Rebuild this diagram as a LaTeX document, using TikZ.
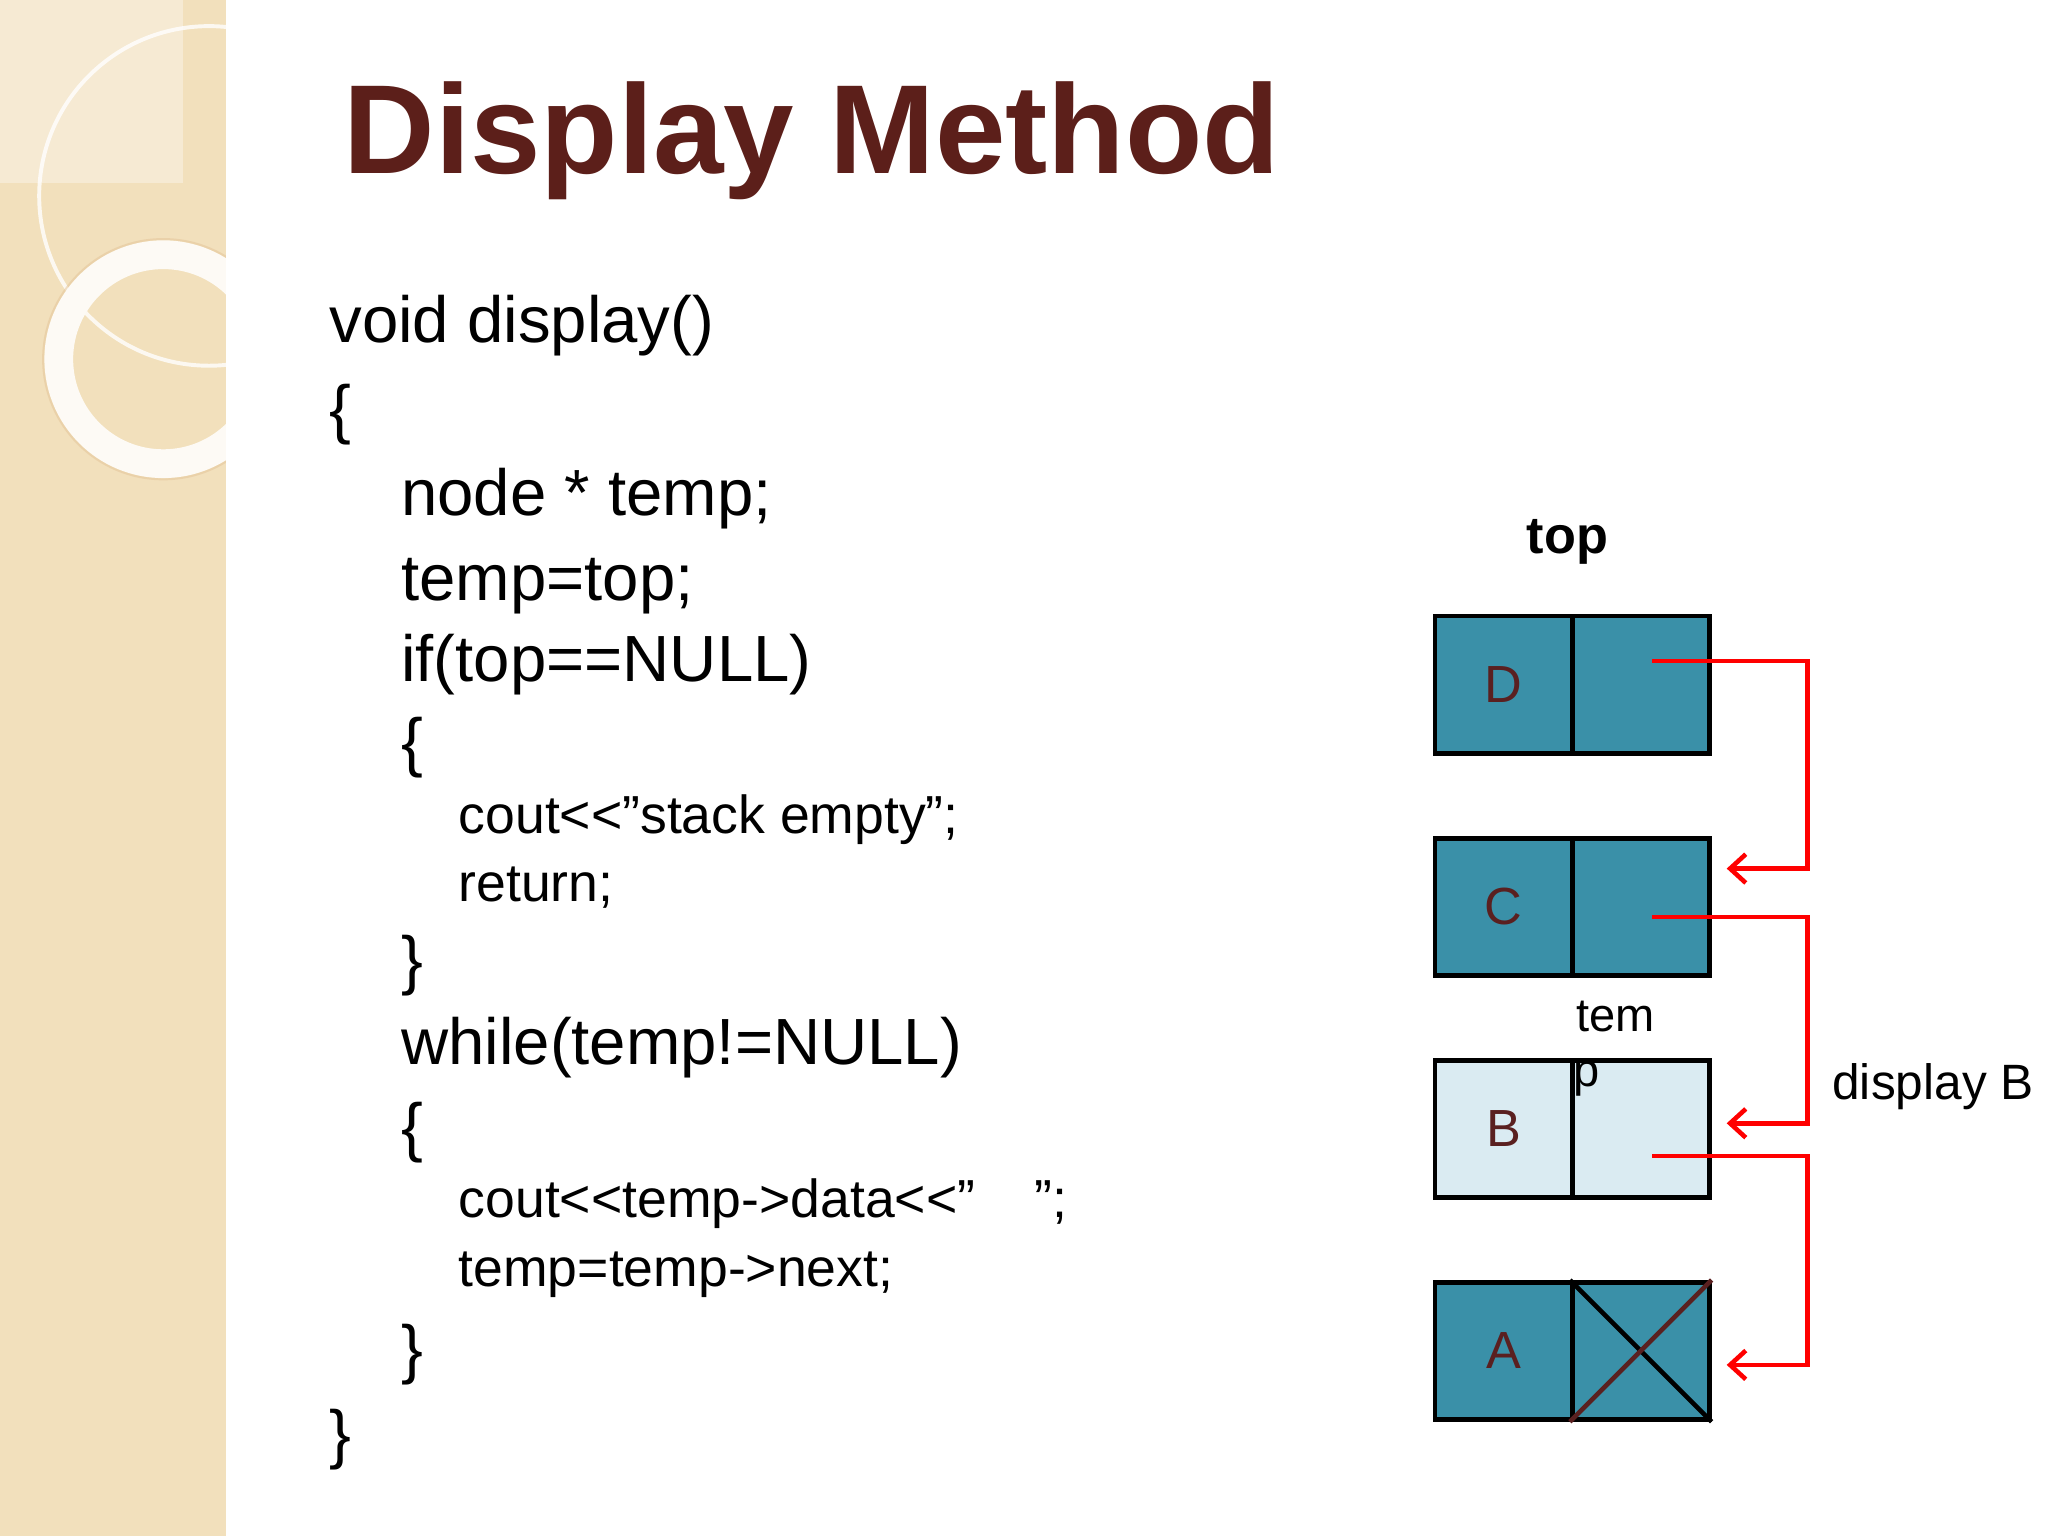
\documentclass[tikz,border=0pt]{standalone}
\usepackage{fontspec}
\setmainfont{Liberation Sans}
\usetikzlibrary{arrows.meta}
\definecolor{teal1}{HTML}{3A90A8}
\definecolor{light1}{HTML}{DAEBF2}
\definecolor{title}{HTML}{5C1F1A}
\definecolor{band}{HTML}{F2E0BC}
\definecolor{lbl}{HTML}{5A2020}
\tikzset{
 half/.style={draw=black,line width=3.5pt,minimum width=105pt,minimum height=105pt,inner sep=0pt,anchor=north west,font=\fontsize{40}{40}\selectfont,text=lbl},
 code/.style={anchor=base west,inner sep=0pt,font=\fontsize{50}{50}\selectfont},
 code2/.style={anchor=base west,inner sep=0pt,font=\fontsize{41}{41}\selectfont},
 ptr/.style={red,line width=3.5pt,-{Straight Barb[length=12pt,width=22pt]}}
}
\begin{document}
\begin{tikzpicture}[x=1pt,y=-1pt]
\useasboundingbox (0,0) rectangle (1568,1176);
\fill[band] (0,0) rectangle (173,1176);
\begin{scope}
\clip (0,0) rectangle (173,1176);
\fill[white,opacity=0.35] (0,0) rectangle (140,140);
\draw[white,line width=3pt,opacity=0.8] (160,150) circle (130);
\draw[white!85!band,line width=22pt] (125,275) circle (80);
\draw[band!70!brown,line width=1.5pt,opacity=0.5] (125,275) circle (92);
\end{scope}
\node[anchor=base west,inner sep=0pt,text=title,font=\fontsize{97}{97}\selectfont\bfseries] (t) at (263,133) {Display Method};
\node[code] (l1) at (252,262) {void display()};
\node[code] (l2) at (252,330) {\{};
\node[code] (l3) at (307,395) {node * temp;};
\node[code] (l4) at (307,460) {temp=top;};
\node[code] (l5) at (307,522) {if(top==NULL)};
\node[code] (l6) at (307,585) {\{};
\node[code2] (l7) at (351,638) {cout<{}<"stack empty";};
\node[code2] (l8) at (351,690) {return;};
\node[code] (l9) at (307,752) {\}};
\node[code] (l10) at (307,815) {while(temp!=NULL)};
\node[code] (l11) at (307,880) {\{};
\node[code2] (l12) at (351,932) {cout<{}<temp->data<{}<"\ \ \ \ ";};
\node[code2] (l13) at (351,985) {temp=temp->next;};
\node[code] (l14) at (307,1050) {\}};
\node[code] (l15) at (252,1115) {\}};
% boxes
\node[half,fill=teal1] (d1) at (1097,470) {D};
\node[half,fill=teal1] (d2) at (1202,470) {};
\node[half,fill=teal1] (c1) at (1097,640) {C};
\node[half,fill=teal1] (c2) at (1202,640) {};
\node[half,fill=light1] (b1) at (1097,810) {B};
\node[half,fill=light1] (b2) at (1202,810) {};
\node[half,fill=teal1] (a1) at (1097,980) {A};
\node[half,fill=teal1] (a2) at (1202,980) {};
\draw[line width=3.5pt,black] (a2.north west) -- (a2.south east);
\draw[line width=3.5pt,lbl] (a2.south west) -- (a2.north east);
\node[font=\fontsize{40}{40}\selectfont\bfseries] (top) at (1200,415) {top};
\node[font=\fontsize{36}{36}\selectfont] (tem) at (1237,778) {tem};
\node[font=\fontsize{36}{36}\selectfont] (p) at (1215,826) {p};
\node[font=\fontsize{38}{38}\selectfont] (disp) at (1480,832) {display B};
\coordinate (s1) at (1265,506); \coordinate (e1) at (1322,665);
\coordinate (s2) at (1265,702); \coordinate (e2) at (1322,860);
\coordinate (s3) at (1265,885); \coordinate (e3) at (1322,1045);
\draw[ptr] (s1) -- (1384,506) -- (1384,665) -- (e1);
\draw[ptr] (s2) -- (1384,702) -- (1384,860) -- (e2);
\draw[ptr] (s3) -- (1384,885) -- (1384,1045) -- (e3);
\end{tikzpicture}
\end{document}
